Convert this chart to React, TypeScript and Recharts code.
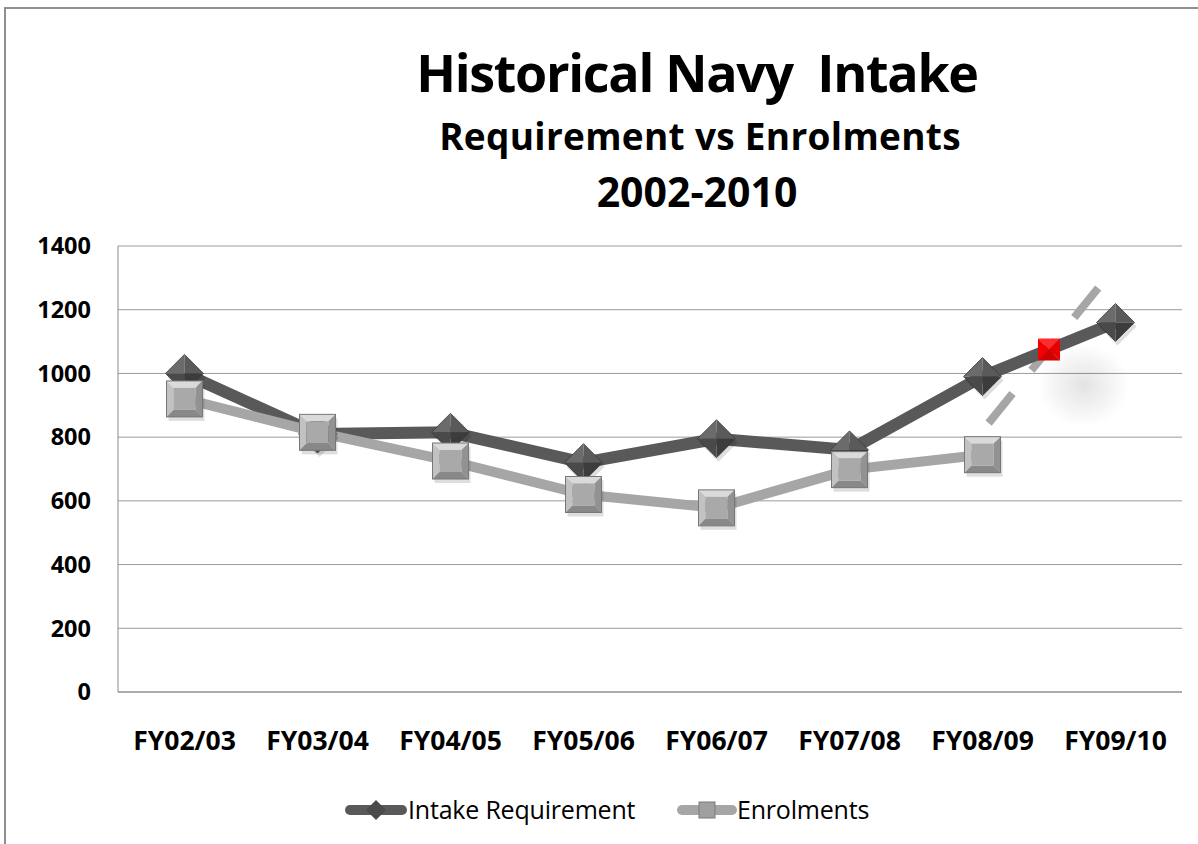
import React from 'react';
import { ComposedChart, Line, XAxis, YAxis, CartesianGrid } from 'recharts';

const categories = ['FY02/03', 'FY03/04', 'FY04/05', 'FY05/06', 'FY06/07', 'FY07/08', 'FY08/09', 'FY09/10'];
const intakeRequirement = [1000, 810, 815, 720, 795, 760, 990, 1160];
const enrolments = [920, 815, 725, 620, 578, 698, 745];
const yTicks = [0, 200, 400, 600, 800, 1000, 1200, 1400];
// dashed trend annotation (x in category index units)
const trendX = [6.046, 6.875];
const trendY = [844, 1271];
const markerX = [6.5];
const markerY = [1075];
const shadowX = [6.76];
const shadowY = [963];

const intakeData = intakeRequirement.map((v, i) => ({ x: i, y: v }));
const enrolData = enrolments.map((v, i) => ({ x: i, y: v }));
const trendData = trendX.map((x, i) => ({ x, y: trendY[i] }));
const markerData = markerX.map((x, i) => ({ x, y: markerY[i] }));
const shadowData = shadowX.map((x, i) => ({ x, y: shadowY[i] }));

const FONT = '"Open Sans", "Noto Sans", sans-serif';

const Diamond = (props: any) => {
  const { cx, cy, index } = props;
  if (cx == null || cy == null) return <g key={index} />;
  const r = 19;
  return (
    <g key={`d${index}`}>
      <polygon points={`${cx + 2},${cy - r + 4} ${cx + r + 2},${cy + 4} ${cx + 2},${cy + r + 4} ${cx - r + 2},${cy + 4}`} fill="rgba(0,0,0,0.13)" />
      <polygon points={`${cx},${cy - r} ${cx - r},${cy} ${cx},${cy}`} fill="#6b6b6b" />
      <polygon points={`${cx},${cy - r} ${cx + r},${cy} ${cx},${cy}`} fill="#5a5a5a" />
      <polygon points={`${cx + r},${cy} ${cx},${cy + r} ${cx},${cy}`} fill="#3c3c3c" />
      <polygon points={`${cx - r},${cy} ${cx},${cy + r} ${cx},${cy}`} fill="#4a4a4a" />
      <polygon points={`${cx},${cy - r} ${cx + r},${cy} ${cx},${cy + r} ${cx - r},${cy}`} fill="none" stroke="#3a3a3a" strokeWidth={0.8} />
    </g>
  );
};

const BevelSquare = (props: any) => {
  const { cx, cy, index } = props;
  if (cx == null || cy == null) return <g key={index} />;
  const s = 18;
  const b = 7;
  const x0 = cx - s, x1 = cx + s, y0 = cy - s, y1 = cy + s;
  const ix0 = x0 + b, ix1 = x1 - b, iy0 = y0 + b, iy1 = y1 - b;
  return (
    <g key={`s${index}`}>
      <rect x={x0 + 2} y={y0 + 4} width={2 * s} height={2 * s} fill="rgba(0,0,0,0.13)" />
      <polygon points={`${x0},${y0} ${x1},${y0} ${ix1},${iy0} ${ix0},${iy0}`} fill="#dadada" />
      <polygon points={`${x0},${y0} ${ix0},${iy0} ${ix0},${iy1} ${x0},${y1}`} fill="#c2c2c2" />
      <polygon points={`${x1},${y0} ${x1},${y1} ${ix1},${iy1} ${ix1},${iy0}`} fill="#929292" />
      <polygon points={`${x0},${y1} ${ix0},${iy1} ${ix1},${iy1} ${x1},${y1}`} fill="#888888" />
      <rect x={ix0} y={iy0} width={ix1 - ix0} height={iy1 - iy0} fill="#a9a9a9" />
      <rect x={x0} y={y0} width={2 * s} height={2 * s} fill="none" stroke="#777777" strokeWidth={1} />
    </g>
  );
};

const RedSquare = (props: any) => {
  const { cx, cy, index } = props;
  if (cx == null || cy == null) return <g key={index} />;
  const s = 11;
  return (
    <g key={`r${index}`}>
      <polygon points={`${cx - s},${cy - s} ${cx + s},${cy - s} ${cx},${cy}`} fill="#ff2a2a" />
      <polygon points={`${cx - s},${cy - s} ${cx - s},${cy + s} ${cx},${cy}`} fill="#f20000" />
      <polygon points={`${cx + s},${cy - s} ${cx + s},${cy + s} ${cx},${cy}`} fill="#e60000" />
      <polygon points={`${cx - s},${cy + s} ${cx + s},${cy + s} ${cx},${cy}`} fill="#d00000" />
    </g>
  );
};

const ShadowBlob = (props: any) => {
  const { cx, cy, index } = props;
  if (cx == null || cy == null) return <g key={index} />;
  return (
    <g key={`b${index}`}>
      <defs>
        <radialGradient id="blobGrad">
          <stop offset="0%" stopColor="#000" stopOpacity={0.11} />
          <stop offset="55%" stopColor="#000" stopOpacity={0.05} />
          <stop offset="100%" stopColor="#000" stopOpacity={0} />
        </radialGradient>
      </defs>
      <ellipse cx={cx} cy={cy} rx={46} ry={42} fill="url(#blobGrad)" />
    </g>
  );
};

export default function App() {
  return (
    <div style={{ position: 'absolute', left: 0, top: 0, width: 1198, height: 844, overflow: 'hidden', background: '#fff' }}>
      <div style={{ position: 'absolute', left: 4, top: 7, width: 1400, height: 1200, border: '2px solid #8f8f8f', boxSizing: 'border-box' }} />
      <svg width={1198} height={844} style={{ position: 'absolute', left: 0, top: 0 }}>
        <text x={697} y={92} textAnchor="middle" fontFamily={FONT} fontWeight={700} fontSize={52} letterSpacing={-1.3} fill="#000" style={{ whiteSpace: 'pre' }}>Historical Navy  Intake</text>
        <text x={700} y={150} textAnchor="middle" fontFamily={FONT} fontWeight={700} fontSize={37} letterSpacing={0.3} fill="#000">Requirement vs Enrolments</text>
        <text x={697} y={207} textAnchor="middle" fontFamily={FONT} fontWeight={700} fontSize={41} letterSpacing={0} fill="#000">2002-2010</text>
      </svg>
      <div style={{ position: 'absolute', left: 0, top: 0 }}>
        <ComposedChart width={1198} height={844} margin={{ top: 246, right: 16, left: 18, bottom: 72 }}>
          <CartesianGrid horizontal vertical={false} stroke="#9a9a9a" strokeWidth={1} />
          <XAxis
            dataKey="x"
            type="number"
            domain={[-0.5, 7.5]}
            ticks={[0, 1, 2, 3, 4, 5, 6, 7]}
            interval={0}
            tickFormatter={(v: number) => categories[v]}
            height={80}
            tickSize={0}
            tickMargin={39}
            axisLine={{ stroke: '#8a8a8a', strokeWidth: 1 }}
            tick={{ fill: '#000', fontSize: 26.5, fontWeight: 700, fontFamily: FONT }}
            allowDataOverflow
          />
          <YAxis
            type="number"
            domain={[0, 1400]}
            ticks={yTicks}
            interval={0}
            width={100}
            tickSize={0}
            tickMargin={27}
            axisLine={{ stroke: '#8a8a8a', strokeWidth: 1 }}
            tick={{ fill: '#000', fontSize: 23.5, fontWeight: 700, fontFamily: FONT }}
          />
          <Line data={shadowData} dataKey="y" stroke="none" dot={ShadowBlob} isAnimationActive={false} legendType="none" />
          <Line data={trendData} dataKey="y" stroke="#a6a6a6" strokeWidth={8} strokeDasharray="38 30" dot={false} isAnimationActive={false} legendType="none" />
          <Line data={intakeData} dataKey="y" name="Intake Requirement" stroke="#595959" strokeWidth={12} strokeLinejoin="round" dot={Diamond} activeDot={false} isAnimationActive={false} />
          <Line data={enrolData} dataKey="y" name="Enrolments" stroke="#a6a6a6" strokeWidth={10} strokeLinejoin="round" dot={BevelSquare} activeDot={false} isAnimationActive={false} />
          <Line data={markerData} dataKey="y" stroke="none" dot={RedSquare} isAnimationActive={false} legendType="none" />
        </ComposedChart>
      </div>
      <svg width={1198} height={844} style={{ position: 'absolute', left: 0, top: 0, pointerEvents: 'none' }}>
        <line x1={350} y1={810} x2={402} y2={810} stroke="#595959" strokeWidth={10} strokeLinecap="round" />
        <polygon points="376,800 386,810 376,820 366,810" fill="#4a4a4a" />
        <text x={408} y={819} fontFamily={FONT} fontSize={25} letterSpacing={-0.2} fill="#000">Intake Requirement</text>
        <line x1={682} y1={810} x2={732} y2={810} stroke="#a6a6a6" strokeWidth={10} strokeLinecap="round" />
        <rect x={699} y={802} width={16} height={16} fill="#a0a0a0" stroke="#7a7a7a" strokeWidth={1} />
        <text x={737} y={819} fontFamily={FONT} fontSize={25} letterSpacing={-0.2} fill="#000">Enrolments</text>
      </svg>
    </div>
  );
}
